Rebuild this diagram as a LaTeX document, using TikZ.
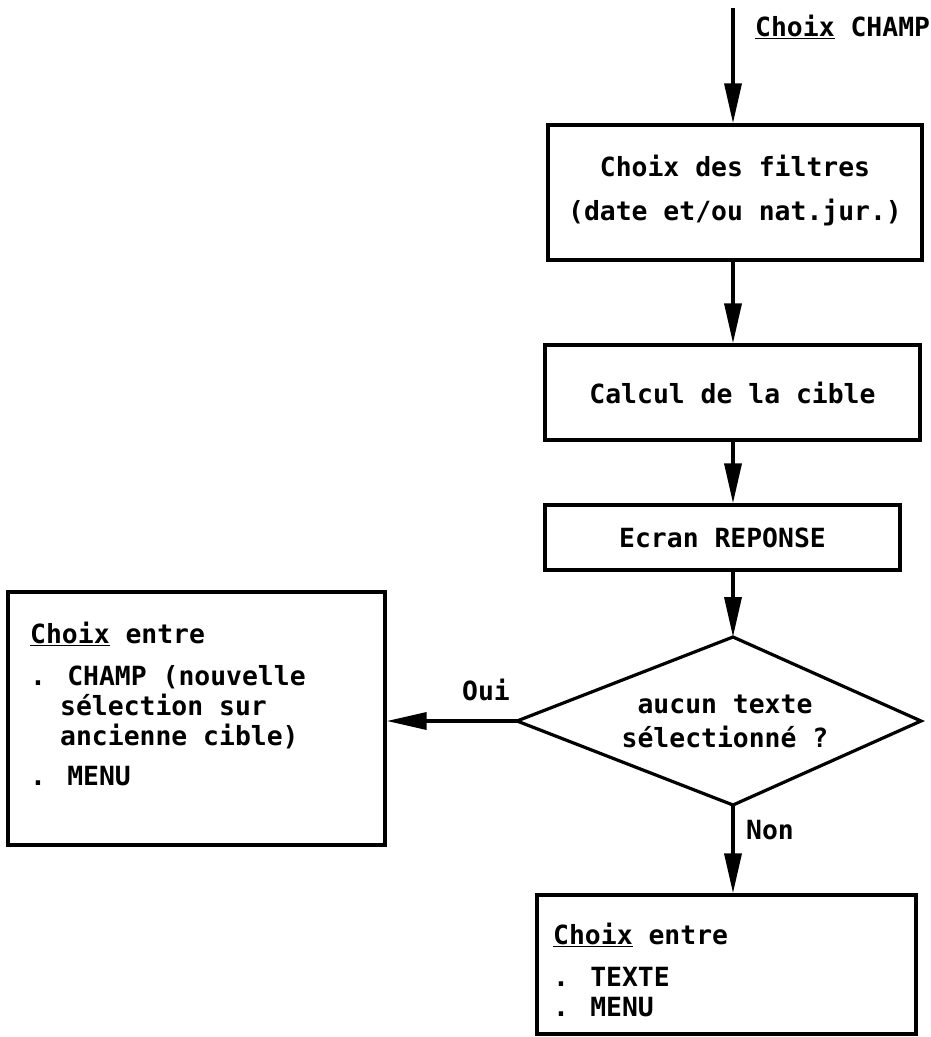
\documentclass[tikz,border=0pt]{standalone}
\usepackage{fontspec}
\setmainfont{DejaVu Sans Mono}
\usetikzlibrary{arrows.meta}
\begin{document}
\begin{tikzpicture}[x=1bp,y=-1bp,
  every node/.style={font=\fontsize{26.5}{31}\selectfont\bfseries},
  box/.style={draw, line width=3.4bp, inner sep=0pt},
  txt/.style={inner sep=0pt, anchor=base west},
  flow/.style={line width=3.6bp, -{Triangle[length=40bp,width=17bp]}},
  lbl/.style={inner sep=0pt}]
\useasboundingbox (0,0) rectangle (931,1037);
% column of the main flow
\coordinate (start) at (733,8);
\node[txt] (top) at (755,36) {\underline{Choix} CHAMP};
\node[box, minimum width=374bp, minimum height=135bp] (b1) at (735,192.5)
  {\begin{tabular}{c}Choix des filtres\\[13bp](date et/ou nat.jur.)\end{tabular}};
\node[box, minimum width=375bp, minimum height=95bp] (b2) at (732.5,392.5) {Calcul de la cible};
\node[box, minimum width=355bp, minimum height=65bp] (b3) at (722.5,537.5) {Ecran REPONSE};
% decision diamond
\coordinate (dN) at (733,637);
\coordinate (dE) at (921,721);
\coordinate (dS) at (733,805);
\coordinate (dW) at (517,721);
\draw[line width=3.2bp, line join=miter] (dN) -- (dE) -- (dS) -- (dW) -- cycle;
\node[lbl, align=center] (d) at (725,721) {aucun texte\\[3bp]sélectionné ?};
\node[box, minimum width=377bp, minimum height=253bp] (left) at (196.5,718.5) {};
\node[box, minimum width=379bp, minimum height=139bp] (bot) at (726.5,964.5) {};
% texts in the left box
\node[txt] (l1) at (30,643) {\underline{Choix} entre};
\node[txt] (l2) at (30,685) {. CHAMP (nouvelle};
\node[txt] (l3) at (60,715) {sélection sur};
\node[txt] (l4) at (60,745) {ancienne cible)};
\node[txt] (l5) at (30,785) {. MENU};
% texts in the bottom box
\node[txt] (r1) at (553,944) {\underline{Choix} entre};
\node[txt] (r2) at (553,986) {. TEXTE};
\node[txt] (r3) at (553,1016) {. MENU};
% labels
\node[lbl] (oui) at (486,690) {Oui};
\node[lbl] (non) at (770,830) {Non};
% connectors
\draw[flow] (start) -- (b1.north -| start);
\draw[flow] (b1.south -| start) -- (b2.north -| start);
\draw[flow] (b2.south -| start) -- (b3.north -| start);
\draw[flow] (b3.south -| start) -- (dN);
\draw[flow] (dW) -- (dW -| left.east);
\draw[flow] (dS) -- (bot.north -| dS);
\end{tikzpicture}
\end{document}
